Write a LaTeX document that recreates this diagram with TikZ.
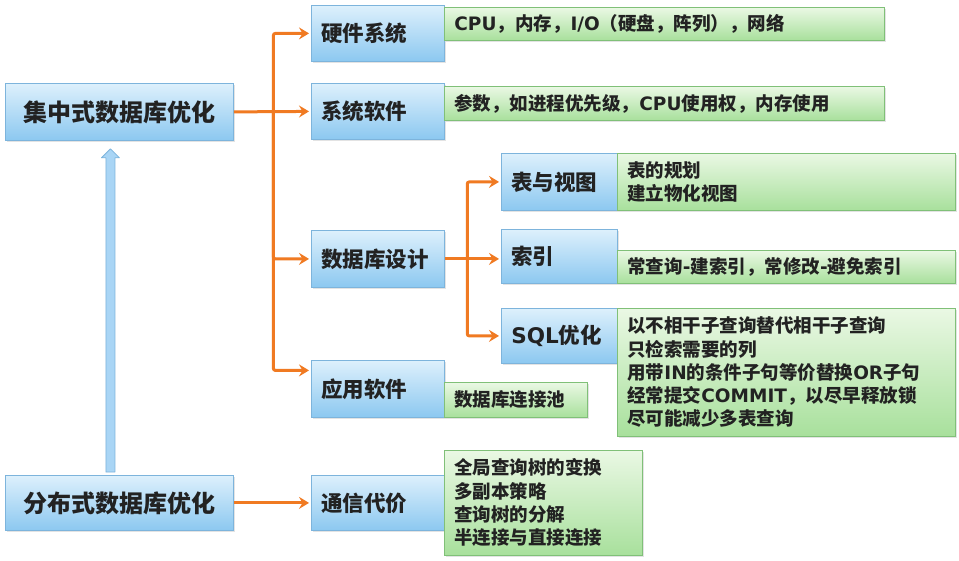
\documentclass[tikz,border=0pt]{standalone}
\usepackage{fontspec}
\setmainfont{Noto Sans CJK SC}
\newfontfamily\lat{DejaVu Sans}
\usetikzlibrary{arrows.meta,calc,shadows}
\definecolor{bluetop}{HTML}{DDF0FC}
\definecolor{bluebot}{HTML}{8CC8F0}
\definecolor{blueedge}{HTML}{7DB4DC}
\definecolor{greentop}{HTML}{EAF8E4}
\definecolor{greenbot}{HTML}{A8E09C}
\definecolor{greenedge}{HTML}{80C078}
\definecolor{orangeline}{HTML}{F07A22}
\definecolor{txt}{HTML}{222222}
\definecolor{uparrow}{HTML}{A9D5F5}
\tikzset{
  boxbase/.style={anchor=north west, inner ysep=0pt, text=txt,
    drop shadow={opacity=0.22, shadow xshift=1.5pt, shadow yshift=-1.5pt}},
  bbox/.style={boxbase, draw=blueedge, line width=0.8pt, top color=bluetop, bottom color=bluebot,
    font=\bfseries\fontsize{21.5}{25}\selectfont, align=left, inner xsep=10pt},
  bigbox/.style={boxbase, draw=blueedge, line width=0.8pt, top color=bluetop, bottom color=bluebot,
    font=\bfseries\fontsize{24}{28}\selectfont, align=center, inner xsep=0pt},
  gbox/.style={boxbase, draw=greenedge, line width=0.8pt, top color=greentop, bottom color=greenbot,
    font=\bfseries\fontsize{18.5}{23.3}\selectfont, align=left, inner xsep=10pt},
  oarrow/.style={draw=orangeline, line width=3pt, rounded corners=2pt, shorten >=2pt,
    -{Stealth[length=10pt,width=12pt,inset=3.5pt]}},
}
\begin{document}
\begin{tikzpicture}[x=1pt,y=-1pt]
\useasboundingbox[fill=white] (0,0) rectangle (959,560);

% blue boxes
\node[bigbox, minimum width=228, minimum height=57, text width=228pt] (jz) at (5,83) {集中式数据库优化};
\node[bigbox, minimum width=228, minimum height=55, text width=228pt] (fb) at (5,475) {分布式数据库优化};
\node[bbox, minimum width=133, minimum height=56, text width=113pt] (yj) at (311,5) {硬件系统};
\node[bbox, minimum width=133, minimum height=56, text width=113pt] (xt) at (311,83) {系统软件};
\node[bbox, minimum width=133, minimum height=57, text width=113pt] (sj) at (311,230) {数据库设计};
\node[bbox, minimum width=133, minimum height=57, text width=113pt] (yy) at (311,360) {应用软件};
\node[bbox, minimum width=133, minimum height=55, text width=113pt] (tx) at (311,475) {通信代价};
\node[bbox, minimum width=116, minimum height=57, text width=96pt] (bs) at (501,153) {表与视图};
\node[bbox, minimum width=116, minimum height=54, text width=96pt] (sy) at (501,229) {索引};
\node[bbox, minimum width=116, minimum height=55, text width=96pt] (sq) at (501,308) {{\lat SQL}优化};

% green boxes
\node[gbox, minimum width=440, minimum height=33, text width=420pt] (g1) at (444,7) {{\lat CPU}，内存，{\lat I/O}（硬盘，阵列），网络};
\node[gbox, minimum width=440, minimum height=34, text width=420pt] (g2) at (444,86) {参数，如进程优先级，{\lat CPU}使用权，内存使用};
\node[gbox, minimum width=338, minimum height=57, text width=318pt] (g3) at (617,153) {表的规划\\建立物化视图};
\node[gbox, minimum width=338, minimum height=33, text width=318pt] (g4) at (617,250) {常查询{\lat -}建索引，常修改{\lat -}避免索引};
\node[gbox, minimum width=338, minimum height=128, text width=318pt] (g5) at (617,308) {以不相干子查询替代相干子查询\\只检索需要的列\\用带{\lat IN}的条件子句等价替换{\lat OR}子句\\经常提交{\lat COMMIT}，以尽早释放锁\\尽可能减少多表查询};
\node[gbox, minimum width=143, minimum height=35, text width=123pt] (g6) at (444,382) {数据库连接池};
\node[gbox, minimum width=198, minimum height=105, text width=178pt] (g7) at (444,450) {全局查询树的变换\\多副本策略\\查询树的分解\\半连接与直接连接};

% orange connectors, first level
\coordinate (t1) at ($(jz.east)!0.513!(xt.west)$);
\draw[oarrow] (jz.east) -- (xt.west);
\draw[oarrow] (t1) |- (yj.west);
\draw[oarrow] (t1) |- (sj.west);
\draw[oarrow] (t1) |- ($(yy.west)+(0,-18.5)$);
\draw[oarrow] (fb.east) -- (tx.west);

% second level
\coordinate (t2) at ($(sj.east)!0.4!(sj.east -| sy.west)$);
\draw[oarrow] (sj.east) -- (sj.east -| sy.west);
\draw[oarrow] (t2) |- (bs.west);
\draw[oarrow] (t2) |- (sq.west);

% blue up arrow from distributed to centralized
\coordinate (ub) at ($(fb.north)+(-9,-3)$);
\coordinate (ut) at ($(jz.south)+(-9,8)$);
\draw[draw=blueedge, fill=uparrow, line width=0.8pt, line join=round]
  ($(ub)+(-4.5,0)$) -- ($(ut)+(-4.5,9)$) -- ($(ut)+(-9,9)$) -- (ut)
  -- ($(ut)+(9,9)$) -- ($(ut)+(4.5,9)$) -- ($(ub)+(4.5,0)$) -- cycle;
\end{tikzpicture}
\end{document}
